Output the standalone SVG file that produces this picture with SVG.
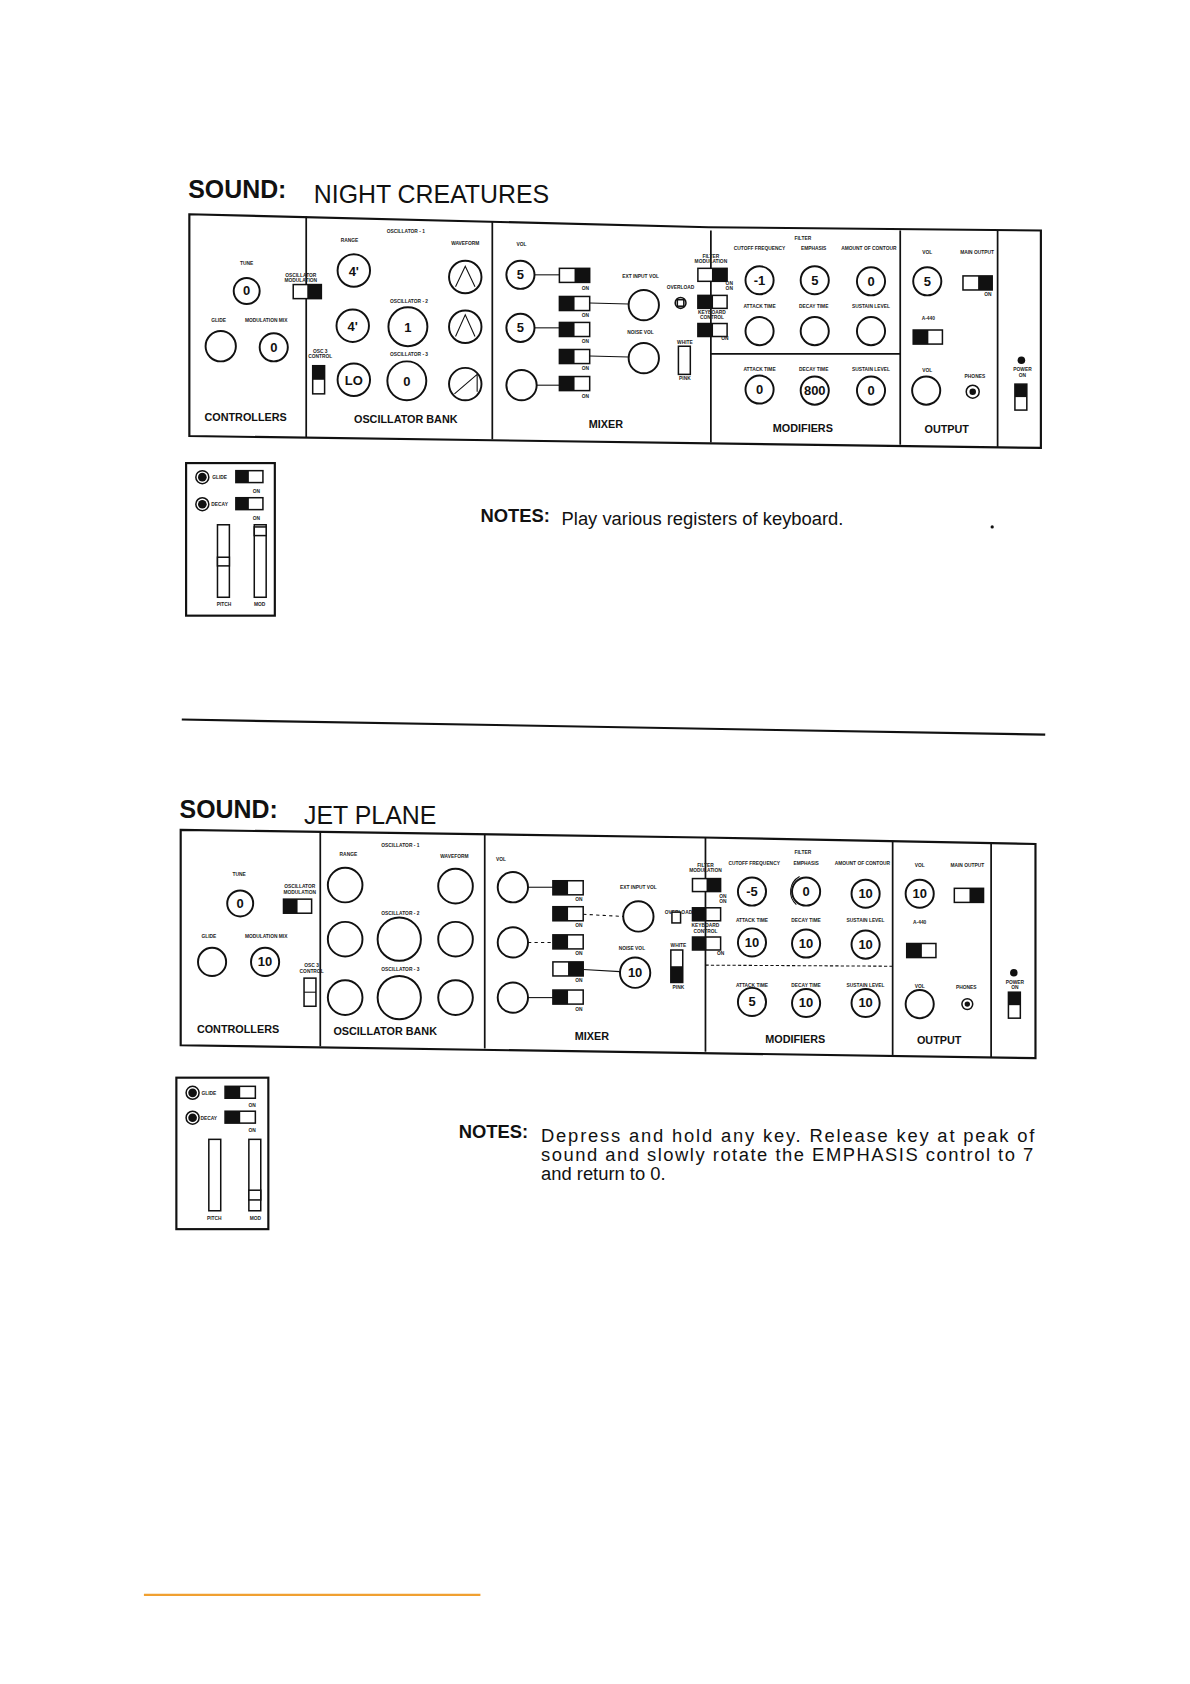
<svg xmlns="http://www.w3.org/2000/svg" width="1190" height="1684" viewBox="0 0 1190 1684">
<style>
.p{fill:none;stroke:#111;stroke-width:2}
.d{stroke:#111;stroke-width:1.6}
.k{fill:#fff;stroke:#111;stroke-width:1.8}
.w{fill:#fff;stroke:#111;stroke-width:1.4}
.b{fill:#111}
.l{stroke:#111;stroke-width:1}
.t{font-family:"Liberation Sans",Arial,sans-serif;fill:#111}
.s{font-family:"Liberation Sans",Arial,sans-serif;font-size:4.5px;font-weight:bold;fill:#222;text-anchor:middle}
.v{font-family:"Liberation Sans",Arial,sans-serif;font-size:12px;font-weight:bold;fill:#111;text-anchor:middle}
.sec{font-family:"Liberation Sans",Arial,sans-serif;font-size:10px;font-weight:bold;fill:#111;text-anchor:middle}
</style>
<rect width="1190" height="1684" fill="#fff"/>
<g transform="scale(1.082)">
<!-- PANEL 1 -->
<g id="title1"><text class="t" x="174" y="183" font-size="23" font-weight="bold">SOUND:</text><text class="t" x="290" y="188" font-size="23">NIGHT CREATURES</text></g>
<g id="panel1">
<polygon class="p" points="175,198 655,210 962,213 962,414 175,403"/>
<line class="d" x1="283" y1="200" x2="283" y2="404"/><line class="d" x1="455" y1="205" x2="455" y2="406"/>
<line class="d" x1="657" y1="213" x2="657" y2="409"/><line class="d" x1="832" y1="213" x2="832" y2="411"/>
<line class="d" x1="922" y1="213" x2="922" y2="413"/><line class="d" x1="657" y1="327" x2="832" y2="327"/>
</g>
<g id="controllers1">
<text class="s" x="228" y="245">TUNE</text><circle class="k" cx="228" cy="269" r="12"/><text class="v" x="228" y="273">0</text>
<text class="s" x="278" y="256">OSCILLATOR</text><text class="s" x="278" y="261">MODULATION</text>
<rect class="w" x="271" y="263" width="26" height="13"/><rect class="b" x="284" y="263" width="13" height="13"/>
<text class="s" x="202" y="298">GLIDE</text><circle class="k" cx="204" cy="320" r="14"/>
<text class="s" x="246" y="298">MODULATION MIX</text><circle class="k" cx="253" cy="321" r="13"/><text class="v" x="253" y="325">0</text>
<text class="sec" x="227" y="389">CONTROLLERS</text>
</g>
<g id="oscbank1">
<text class="s" x="375" y="215" font-size="5.5">OSCILLATOR - 1</text><text class="s" x="323" y="224">RANGE</text><text class="s" x="430" y="226">WAVEFORM</text>
<circle class="k" cx="327" cy="250" r="15"/><text class="v" x="327" y="255">4'</text>
<circle class="k" cx="430" cy="256" r="15"/><polyline class="l" points="421,265 430,246 439,265" fill="none"/>
<text class="s" x="378" y="280" font-size="5.5">OSCILLATOR - 2</text>
<circle class="k" cx="326" cy="301" r="15"/><text class="v" x="326" y="306">4'</text>
<circle class="k" cx="377" cy="302" r="18"/><text class="v" x="377" y="307">1</text>
<circle class="k" cx="430" cy="302" r="15"/><polyline class="l" points="421,311 430,291 439,311" fill="none"/>
<text class="s" x="378" y="329" font-size="5.5">OSCILLATOR - 3</text>
<text class="s" x="296" y="326">OSC 3</text><text class="s" x="296" y="331">CONTROL</text>
<rect class="w" x="289" y="338" width="11" height="26"/><rect class="b" x="289" y="338" width="11" height="13"/>
<circle class="k" cx="327" cy="351" r="15"/><text class="v" x="327" y="356">LO</text>
<circle class="k" cx="376" cy="352" r="18"/><text class="v" x="376" y="357">0</text>
<circle class="k" cx="430" cy="355" r="15"/><polyline class="l" points="420,364 441,346 441,362" fill="none"/>
<text class="sec" x="375" y="391">OSCILLATOR BANK</text>
</g>
<g id="mixer1">
<text class="s" x="482" y="227">VOL</text>
<circle class="k" cx="481" cy="254" r="13"/><text class="v" x="481" y="258">5</text>
<circle class="k" cx="481" cy="303" r="13"/><text class="v" x="481" y="307">5</text>
<circle class="k" cx="482" cy="356" r="14"/>
<rect class="w" x="517" y="248" width="28" height="13"/><rect class="b" x="531" y="248" width="14" height="13"/>
<rect class="w" x="517" y="274" width="28" height="13"/><rect class="b" x="517" y="274" width="14" height="13"/>
<rect class="w" x="517" y="298" width="28" height="13"/><rect class="b" x="517" y="298" width="14" height="13"/>
<rect class="w" x="517" y="323" width="28" height="13"/><rect class="b" x="517" y="323" width="14" height="13"/>
<rect class="w" x="517" y="348" width="28" height="13"/><rect class="b" x="517" y="348" width="14" height="13"/>
<text class="s" x="541" y="268">ON</text><text class="s" x="541" y="293">ON</text><text class="s" x="541" y="317">ON</text><text class="s" x="541" y="342">ON</text><text class="s" x="541" y="368">ON</text>
<line class="l" x1="494" y1="254" x2="517" y2="254"/><line class="l" x1="494" y1="303" x2="517" y2="303"/><line class="l" x1="496" y1="356" x2="517" y2="356"/>
<line class="l" x1="545" y1="280" x2="581" y2="281"/><line class="l" x1="545" y1="329" x2="581" y2="330"/>
<text class="s" x="592" y="257">EXT INPUT VOL</text><circle class="k" cx="595" cy="282" r="14"/>
<text class="s" x="592" y="309">NOISE VOL</text><circle class="k" cx="595" cy="331" r="14"/>
<text class="s" x="629" y="267">OVERLOAD</text><circle class="w" cx="629" cy="280" r="5"/><rect class="w" x="626" y="277" width="6" height="6"/>
<text class="s" x="633" y="318">WHITE</text><rect class="w" x="627" y="320" width="11" height="26"/><text class="s" x="633" y="351">PINK</text>
<text class="s" x="657" y="238">FILTER</text><text class="s" x="657" y="243">MODULATION</text>
<rect class="w" x="645" y="248" width="27" height="12"/><rect class="b" x="658" y="248" width="14" height="12"/>
<rect class="w" x="645" y="273" width="27" height="12"/><rect class="b" x="645" y="273" width="14" height="12"/>
<text class="s" x="658" y="290">KEYBOARD</text><text class="s" x="658" y="295">CONTROL</text>
<rect class="w" x="645" y="299" width="27" height="12"/><rect class="b" x="645" y="299" width="14" height="12"/>
<text class="s" x="670" y="314">ON</text><text class="s" x="674" y="263">ON</text><text class="s" x="674" y="268">ON</text>
<text class="sec" x="560" y="396">MIXER</text>
</g>
<g id="modifiers1">
<text class="s" x="742" y="222" font-size="5.5">FILTER</text>
<text class="s" x="702" y="231">CUTOFF FREQUENCY</text><text class="s" x="752" y="231">EMPHASIS</text><text class="s" x="803" y="231">AMOUNT OF CONTOUR</text>
<circle class="k" cx="702" cy="259" r="13"/><text class="v" x="702" y="263">-1</text>
<circle class="k" cx="753" cy="259" r="13"/><text class="v" x="753" y="263">5</text>
<circle class="k" cx="805" cy="260" r="13"/><text class="v" x="805" y="264">0</text>
<text class="s" x="702" y="285">ATTACK TIME</text><text class="s" x="752" y="285">DECAY TIME</text><text class="s" x="805" y="285">SUSTAIN LEVEL</text>
<circle class="k" cx="702" cy="306" r="13"/><circle class="k" cx="753" cy="306" r="13"/><circle class="k" cx="805" cy="306" r="13"/>
<text class="s" x="702" y="343">ATTACK TIME</text><text class="s" x="752" y="343">DECAY TIME</text><text class="s" x="805" y="343">SUSTAIN LEVEL</text>
<circle class="k" cx="702" cy="360" r="13"/><text class="v" x="702" y="364">0</text>
<circle class="k" cx="753" cy="361" r="13"/><text class="v" x="753" y="365" font-size="11">800</text>
<circle class="k" cx="805" cy="361" r="13"/><text class="v" x="805" y="365">0</text>
<text class="sec" x="742" y="399">MODIFIERS</text>
</g>
<g id="output1">
<text class="s" x="857" y="235">VOL</text><circle class="k" cx="857" cy="260" r="13"/><text class="v" x="857" y="264">5</text>
<text class="s" x="903" y="235">MAIN OUTPUT</text><rect class="w" x="890" y="255" width="27" height="13"/><rect class="b" x="904" y="255" width="13" height="13"/><text class="s" x="913" y="274">ON</text>
<text class="s" x="858" y="296">A-440</text><rect class="w" x="844" y="305" width="27" height="13"/><rect class="b" x="844" y="305" width="14" height="13"/>
<text class="s" x="857" y="344">VOL</text><circle class="k" cx="856" cy="361" r="13"/>
<text class="s" x="901" y="349">PHONES</text><circle class="w" cx="899" cy="362" r="6"/><circle class="b" cx="899" cy="362" r="3"/>
<text class="sec" x="875" y="400">OUTPUT</text>
</g>
<g id="power1">
<circle class="b" cx="944" cy="333" r="3.5"/><text class="s" x="945" y="343">POWER</text><text class="s" x="945" y="348">ON</text>
<rect class="w" x="938" y="355" width="11" height="24"/><rect class="b" x="938" y="355" width="11" height="12"/>
</g>
<g id="keys1">
<rect class="p" x="172" y="428" width="82" height="141"/>
<circle class="w" cx="187" cy="441" r="6"/><circle class="b" cx="187" cy="441" r="4"/><text class="s" x="203" y="443">GLIDE</text>
<rect class="w" x="218" y="435" width="25" height="11"/><rect class="b" x="218" y="435" width="12" height="11"/>
<circle class="w" cx="187" cy="466" r="6"/><circle class="b" cx="187" cy="466" r="4"/><text class="s" x="203" y="468">DECAY</text>
<rect class="w" x="218" y="460" width="25" height="11"/><rect class="b" x="218" y="460" width="12" height="11"/>
<text class="s" x="237" y="456">ON</text><text class="s" x="237" y="481">ON</text>
<rect class="w" x="201" y="485" width="11" height="67"/><rect class="w" x="201" y="515" width="11" height="8"/>
<rect class="w" x="235" y="485" width="11" height="67"/><rect class="w" x="235" y="487" width="11" height="8"/>
<text class="s" x="207" y="560">PITCH</text><text class="s" x="240" y="560">MOD</text>
</g>
<g id="notes1"><text class="t" x="444" y="482" font-size="17" font-weight="bold">NOTES:</text><text class="t" x="519" y="485" font-size="17">Play various registers of keyboard.</text>
<circle class="b" cx="917" cy="487" r="1.5"/></g>
<g id="separator"><line x1="168" y1="665" x2="966" y2="679" stroke="#111" stroke-width="2"/></g>

<!-- PANEL 2 -->
<g id="title2"><text class="t" x="166" y="756" font-size="23" font-weight="bold">SOUND:</text><text class="t" x="281" y="762" font-size="23">JET PLANE</text></g>
<g id="panel2">
<polygon class="p" points="167,767 650,774 957,780 957,978 167,966"/>
<line class="d" x1="296" y1="768" x2="296" y2="967"/><line class="d" x1="448" y1="771" x2="448" y2="969"/>
<line class="d" x1="652" y1="774" x2="652" y2="972"/><line class="d" x1="825" y1="778" x2="825" y2="975"/>
<line class="d" x1="916" y1="779" x2="916" y2="977"/><line x1="652" y1="892" x2="825" y2="893" stroke="#111" stroke-width="1" stroke-dasharray="3,2"/>
</g>
<g id="controllers2">
<text class="s" x="221" y="810">TUNE</text><circle class="k" cx="222" cy="835" r="12"/><text class="v" x="222" y="839">0</text>
<text class="s" x="277" y="821">OSCILLATOR</text><text class="s" x="277" y="826">MODULATION</text>
<rect class="w" x="262" y="831" width="26" height="13"/><rect class="b" x="262" y="831" width="13" height="13"/>
<text class="s" x="193" y="867">GLIDE</text><circle class="k" cx="196" cy="889" r="13"/>
<text class="s" x="246" y="867">MODULATION MIX</text><circle class="k" cx="245" cy="889" r="13"/><text class="v" x="245" y="893">10</text>
<text class="sec" x="220" y="955">CONTROLLERS</text>
</g>
<g id="oscbank2">
<text class="s" x="370" y="783" font-size="5.5">OSCILLATOR - 1</text><text class="s" x="322" y="791">RANGE</text><text class="s" x="420" y="793">WAVEFORM</text>
<circle class="k" cx="319" cy="818" r="16"/><circle class="k" cx="421" cy="819" r="16"/>
<text class="s" x="370" y="846" font-size="5.5">OSCILLATOR - 2</text>
<circle class="k" cx="319" cy="868" r="16"/><circle class="k" cx="369" cy="868" r="20"/><circle class="k" cx="421" cy="868" r="16"/>
<text class="s" x="370" y="897" font-size="5.5">OSCILLATOR - 3</text>
<text class="s" x="288" y="894">OSC 3</text><text class="s" x="288" y="899">CONTROL</text>
<rect class="w" x="281" y="904" width="11" height="26"/><line class="l" x1="281" y1="917" x2="292" y2="917"/>
<circle class="k" cx="319" cy="922" r="16"/><circle class="k" cx="369" cy="922" r="20"/><circle class="k" cx="421" cy="922" r="16"/>
<text class="sec" x="356" y="957">OSCILLATOR BANK</text>
</g>
<g id="mixer2">
<text class="s" x="463" y="796">VOL</text>
<circle class="k" cx="474" cy="820" r="14"/><circle class="k" cx="474" cy="871" r="14"/><circle class="k" cx="474" cy="922" r="14"/>
<rect class="w" x="511" y="814" width="28" height="13"/><rect class="b" x="511" y="814" width="14" height="13"/>
<rect class="w" x="511" y="838" width="28" height="13"/><rect class="b" x="511" y="838" width="14" height="13"/>
<rect class="w" x="511" y="864" width="28" height="13"/><rect class="b" x="511" y="864" width="14" height="13"/>
<rect class="w" x="511" y="889" width="28" height="13"/><rect class="b" x="525" y="889" width="14" height="13"/>
<rect class="w" x="511" y="915" width="28" height="13"/><rect class="b" x="511" y="915" width="14" height="13"/>
<text class="s" x="535" y="833">ON</text><text class="s" x="535" y="857">ON</text><text class="s" x="535" y="883">ON</text><text class="s" x="535" y="908">ON</text><text class="s" x="535" y="934">ON</text>
<line class="l" x1="488" y1="820" x2="511" y2="820"/><line class="l" x1="488" y1="871" x2="511" y2="871" stroke-dasharray="3,3"/><line class="l" x1="488" y1="922" x2="511" y2="922"/>
<line class="l" x1="539" y1="845" x2="576" y2="847" stroke-dasharray="3,3"/><line class="l" x1="539" y1="896" x2="573" y2="898"/>
<text class="s" x="590" y="822">EXT INPUT VOL</text><circle class="k" cx="590" cy="847" r="14"/>
<text class="s" x="584" y="878">NOISE VOL</text><circle class="k" cx="587" cy="899" r="14"/><text class="v" x="587" y="903">10</text>
<text class="s" x="627" y="845">OVERLOAD</text><rect class="w" x="621" y="843" width="8" height="10"/>
<text class="s" x="627" y="875">WHITE</text><rect class="w" x="620" y="878" width="11" height="30"/><rect class="b" x="620" y="893" width="11" height="15"/><text class="s" x="627" y="914">PINK</text>
<text class="s" x="652" y="801">FILTER</text><text class="s" x="652" y="806">MODULATION</text>
<rect class="w" x="640" y="812" width="26" height="12"/><rect class="b" x="653" y="812" width="13" height="12"/>
<text class="s" x="668" y="830">ON</text><text class="s" x="668" y="835">ON</text>
<rect class="w" x="640" y="839" width="26" height="12"/><rect class="b" x="640" y="839" width="13" height="12"/>
<text class="s" x="652" y="857">KEYBOARD</text><text class="s" x="652" y="862">CONTROL</text>
<rect class="w" x="640" y="866" width="26" height="12"/><rect class="b" x="640" y="866" width="13" height="12"/><text class="s" x="666" y="883">ON</text>
<text class="sec" x="547" y="961">MIXER</text>
</g>
<g id="modifiers2">
<text class="s" x="742" y="789" font-size="5.5">FILTER</text>
<text class="s" x="697" y="799">CUTOFF FREQUENCY</text><text class="s" x="745" y="799">EMPHASIS</text><text class="s" x="797" y="799">AMOUNT OF CONTOUR</text>
<circle class="k" cx="695" cy="824" r="13"/><text class="v" x="695" y="828">-5</text>
<circle class="k" cx="745" cy="824" r="13"/><text class="v" x="745" y="828">0</text><path class="l" fill="none" d="M736,836 A16,16 0 0 1 739,810"/>
<circle class="k" cx="800" cy="826" r="13"/><text class="v" x="800" y="830">10</text>
<text class="s" x="695" y="852">ATTACK TIME</text><text class="s" x="745" y="852">DECAY TIME</text><text class="s" x="800" y="852">SUSTAIN LEVEL</text>
<circle class="k" cx="695" cy="871" r="13"/><text class="v" x="695" y="875">10</text>
<circle class="k" cx="745" cy="872" r="13"/><text class="v" x="745" y="876">10</text>
<circle class="k" cx="800" cy="873" r="13"/><text class="v" x="800" y="877">10</text>
<text class="s" x="695" y="912">ATTACK TIME</text><text class="s" x="745" y="912">DECAY TIME</text><text class="s" x="800" y="912">SUSTAIN LEVEL</text>
<circle class="k" cx="695" cy="926" r="13"/><text class="v" x="695" y="930">5</text>
<circle class="k" cx="745" cy="927" r="13"/><text class="v" x="745" y="931">10</text>
<circle class="k" cx="800" cy="927" r="13"/><text class="v" x="800" y="931">10</text>
<text class="sec" x="735" y="964">MODIFIERS</text>
</g>
<g id="output2">
<text class="s" x="850" y="801">VOL</text><circle class="k" cx="850" cy="826" r="13"/><text class="v" x="850" y="830">10</text>
<text class="s" x="894" y="801">MAIN OUTPUT</text><rect class="w" x="882" y="821" width="27" height="13"/><rect class="b" x="896" y="821" width="13" height="13"/>
<text class="s" x="850" y="854">A-440</text><rect class="w" x="838" y="872" width="27" height="13"/><rect class="b" x="838" y="872" width="14" height="13"/>
<text class="s" x="850" y="913">VOL</text><circle class="k" cx="850" cy="928" r="13"/>
<text class="s" x="893" y="914">PHONES</text><circle class="w" cx="894" cy="928" r="5"/><circle class="b" cx="894" cy="928" r="2.5"/>
<text class="sec" x="868" y="965">OUTPUT</text>
</g>
<g id="power2">
<circle class="b" cx="937" cy="899" r="3.5"/><text class="s" x="938" y="909">POWER</text><text class="s" x="938" y="914">ON</text>
<rect class="w" x="932" y="917" width="11" height="24"/><rect class="b" x="932" y="917" width="11" height="12"/>
</g>
<g id="keys2">
<rect class="p" x="163" y="996" width="85" height="140"/>
<circle class="w" cx="178" cy="1010" r="6"/><circle class="b" cx="178" cy="1010" r="4"/><text class="s" x="193" y="1012">GLIDE</text>
<rect class="w" x="208" y="1004" width="28" height="11"/><rect class="b" x="208" y="1004" width="14" height="11"/>
<circle class="w" cx="178" cy="1033" r="6"/><circle class="b" cx="178" cy="1033" r="4"/><text class="s" x="193" y="1035">DECAY</text>
<rect class="w" x="208" y="1027" width="28" height="11"/><rect class="b" x="208" y="1027" width="14" height="11"/>
<text class="s" x="233" y="1023">ON</text><text class="s" x="233" y="1046">ON</text>
<rect class="w" x="193" y="1053" width="11" height="66"/>
<rect class="w" x="230" y="1053" width="11" height="66"/><rect class="w" x="230" y="1100" width="11" height="9"/>
<text class="s" x="198" y="1128">PITCH</text><text class="s" x="236" y="1128">MOD</text>
</g>
<g id="notes2">
<text class="t" x="424" y="1052" font-size="17" font-weight="bold">NOTES:</text>
<text class="t" x="500" y="1055" font-size="17" textLength="456" lengthAdjust="spacing">Depress and hold any key. Release key at peak of</text>
<text class="t" x="500" y="1073" font-size="17" textLength="455" lengthAdjust="spacing">sound and slowly rotate the EMPHASIS control to 7</text>
<text class="t" x="500" y="1091" font-size="17">and return to 0.</text>
</g>
<line x1="133" y1="1474" x2="444" y2="1474" stroke="#f0a030" stroke-width="2"/>
</g>
</svg>
